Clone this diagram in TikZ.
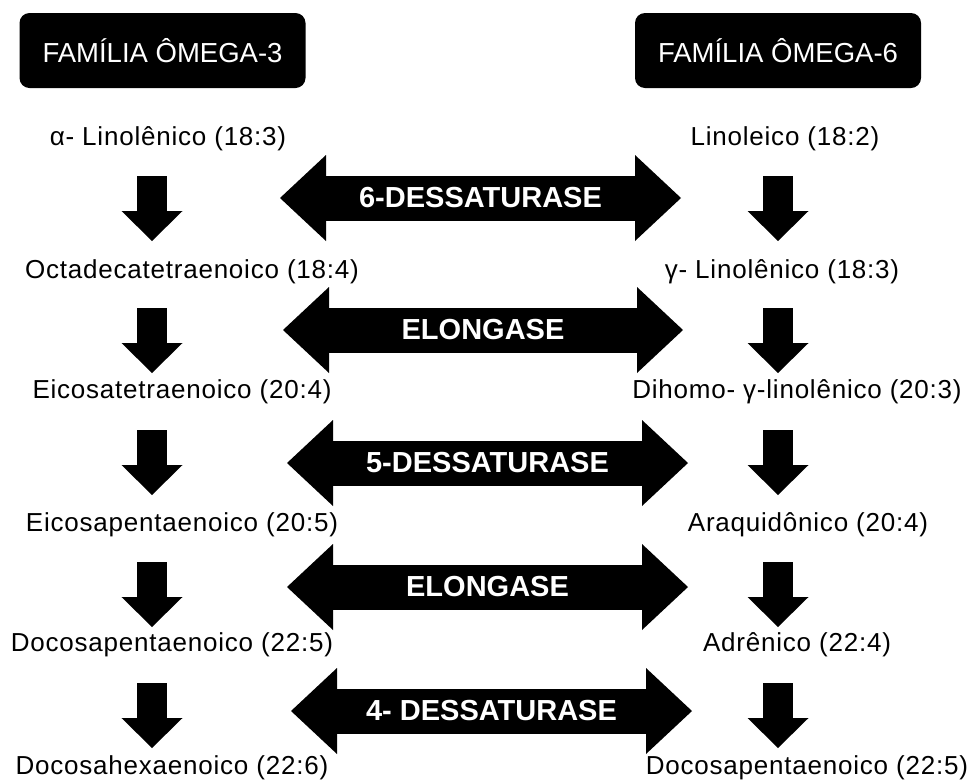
\documentclass[tikz,border=0pt]{standalone}
\usepackage{fontspec}
\setmainfont{Liberation Sans}
\newfontfamily\acidfont{Liberation Sans}[LetterSpace=3]
\usepackage{tikz}
\usetikzlibrary{calc,arrows.meta}

\tikzset{
    acid/.style={inner sep=0pt, font=\acidfont\fontsize{26}{30}\selectfont},
    family/.style={fill=black, rounded corners=10pt, minimum width=286pt, minimum height=75pt, inner sep=0pt, text=white, font=\fontsize{27.5}{30}\selectfont},
    downarrow/.style={line width=30pt, -{Triangle[width=61pt,length=30pt,line width=0pt]}},
    enzyme/.style={line width=45pt, {Triangle[width=86pt,length=46pt,line width=0pt]}-{Triangle[width=86pt,length=46pt,line width=0pt]}},
    enzlabel/.style={text=white, inner sep=0pt, font=\bfseries\fontsize{29}{30}\selectfont}
}

\begin{document}
\begin{tikzpicture}[x=1pt,y=-1pt]

        \useasboundingbox (0,0) rectangle (972,780);

        \coordinate (colL) at (152,0); %omega-3 arrows
        \coordinate (colR) at (778,0); %omega-6 arrows

            \node[family] (fam3) at (162.5,50.5) {FAMÍLIA ÔMEGA-3};
            \node[family] (fam6) at (778,50.5) {FAMÍLIA ÔMEGA-6};

            \node[acid] (w31) at (168,139) {α- Linolênico (18:3)};
            \node[acid] (w32) at (192,272) {Octadecatetraenoico (18:4)};
            \node[acid] (w33) at (182,392) {Eicosatetraenoico (20:4)};
            \node[acid] (w34) at (182,525) {Eicosapentaenoico (20:5)};
            \node[acid] (w35) at (172,645) {Docosapentaenoico (22:5)};
            \node[acid] (w36) at (172,768) {Docosahexaenoico (22:6)};

            \node[acid] (w61) at (785,139) {Linoleico (18:2)};
            \node[acid] (w62) at (782,272) {γ- Linolênico (18:3)};
            \node[acid] (w63) at (797,392) {Dihomo- γ-linolênico (20:3)};
            \node[acid] (w64) at (808,525) {Araquidônico (20:4)};
            \node[acid] (w65) at (797,645) {Adrênico (22:4)};
            \node[acid] (w66) at (807,768) {Docosapentaenoico (22:5)};

            \draw[downarrow] ($(colL |- w31)+(0,37)$) -- ++(0,65);
            \draw[downarrow] ($(colL |- w32)+(0,36)$) -- ++(0,65);
            \draw[downarrow] ($(colL |- w33)+(0,38)$) -- ++(0,65);
            \draw[downarrow] ($(colL |- w34)+(0,37)$) -- ++(0,65);
            \draw[downarrow] ($(colL |- w35)+(0,38)$) -- ++(0,65);

            \draw[downarrow] ($(colR |- w61)+(0,37)$) -- ++(0,65);
            \draw[downarrow] ($(colR |- w62)+(0,36)$) -- ++(0,65);
            \draw[downarrow] ($(colR |- w63)+(0,38)$) -- ++(0,65);
            \draw[downarrow] ($(colR |- w64)+(0,37)$) -- ++(0,65);
            \draw[downarrow] ($(colR |- w65)+(0,38)$) -- ++(0,65);

            \coordinate (des6L) at (280,198);
            \coordinate (des6R) at (681,198);
            \coordinate (elo1L) at (283,330);
            \coordinate (elo1R) at (683,330);
            \coordinate (des5L) at (287,463);
            \coordinate (des5R) at (688,463);
            \coordinate (elo2L) at (287,587);
            \coordinate (elo2R) at (688,587);
            \coordinate (des4L) at (291,711);
            \coordinate (des4R) at (692,711);

            \draw[enzyme] (des6L) -- (des6R) node[midway,enzlabel] {6-DESSATURASE};
            \draw[enzyme] (elo1L) -- (elo1R) node[midway,enzlabel] {ELONGASE};
            \draw[enzyme] (des5L) -- (des5R) node[midway,enzlabel] {5-DESSATURASE};
            \draw[enzyme] (elo2L) -- (elo2R) node[midway,enzlabel] {ELONGASE};
            \draw[enzyme] (des4L) -- (des4R) node[midway,enzlabel] {4- DESSATURASE};

        \end{tikzpicture}
\end{document}
